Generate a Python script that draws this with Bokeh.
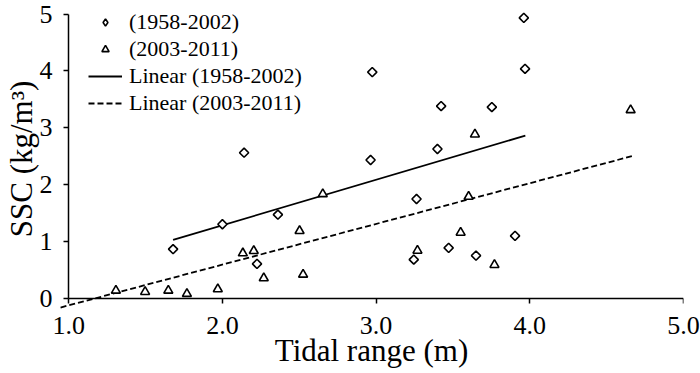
import numpy as np
from bokeh.plotting import figure
from bokeh.models import (Range1d, Legend, LegendItem, FixedTicker, PrintfTickFormatter,
                          LinearAxis, CustomJSTickFormatter)
from bokeh.embed import file_html
from bokeh.resources import INLINE

# ---- data ----
x_1958 = [1.679, 2.000, 2.141, 2.361, 2.225, 2.975, 2.964, 3.961, 3.969,
          3.423, 3.753, 3.399, 3.263, 3.472, 3.245, 3.650, 3.904]
y_1958 = [0.862, 1.301, 2.561, 1.470, 0.603, 3.980, 2.432, 4.935, 4.038,
          3.382, 3.364, 2.626, 1.746, 0.885, 0.679, 0.749, 1.096]

x_2003 = [1.307, 1.497, 1.648, 1.769, 1.970, 2.133, 2.204, 2.269, 2.502,
          2.525, 2.653, 3.269, 3.550, 3.602, 3.643, 3.770, 4.656]
y_2003 = [0.134, 0.111, 0.134, 0.076, 0.158, 0.791, 0.832, 0.352, 1.184,
          0.415, 1.834, 0.837, 1.154, 1.787, 2.884, 0.586, 3.312]

# linear trend lines (slope, intercept) and their x extent
trend_1958 = [0.801, -0.319]
trend_1958_x = [1.679, 3.971]
trend_2003 = [0.717, -0.844]
trend_2003_x = [0.947, 4.667]

x_ticks = [1.0, 2.0, 3.0, 4.0, 5.0]
y_ticks = [0, 1, 2, 3, 4, 5]

series_labels = ["(1958-2002)", "(2003-2011)", "Linear (1958-2002)", "Linear (2003-2011)"]
x_title = "Tidal range (m)"
y_title = "SSC (kg/m³)"

FONT = "Liberation Serif"

p = figure(width=700, height=373, output_backend="svg", toolbar_location=None,
           x_range=Range1d(0.94, 5.0), y_range=Range1d(-0.2, 5.1),
           min_border_left=57, min_border_right=17, min_border_top=8,
           min_border_bottom=64)
p.outline_line_color = None
p.xgrid.visible = False
p.ygrid.visible = False
p.background_fill_color = "white"

t1x = np.array(trend_1958_x)
t2x = np.array(trend_2003_x)
r_l1 = p.line(t1x, trend_1958[0] * t1x + trend_1958[1], line_color="black", line_width=1.8)
r_l2 = p.line(t2x, trend_2003[0] * t2x + trend_2003[1], line_color="black", line_width=1.8,
              line_dash="6 3")

p.scatter(x_1958, y_1958, marker="square", angle=np.pi / 4, size=6.5,
          fill_color="white", line_color="black", line_width=1.6)
r_t = p.scatter(x_2003, y_2003, marker="triangle", size=9,
                fill_color="white", line_color="black", line_width=1.6)
# legend-only twin of the 1958-2002 series (legend glyphs are never rotated)
r_d_leg = p.scatter(x_1958, y_1958, marker="diamond", size=9,
                    fill_color="white", line_color="black", line_width=1.6, visible=False)

# label-only axes in the side panels
for ax in (p.xaxis[0], p.yaxis[0]):
    ax.axis_line_color = None
    ax.major_tick_line_color = None
    ax.major_tick_out = 0
    ax.major_tick_in = 0
    ax.minor_tick_line_color = None
    ax.major_label_text_font = FONT
    ax.major_label_text_font_size = "26px"
    ax.major_label_text_color = "black"
    ax.axis_label_text_font = FONT
    ax.axis_label_text_font_size = "31px"
    ax.axis_label_text_font_style = "normal"
    ax.axis_label_text_color = "black"

p.xaxis.ticker = FixedTicker(ticks=x_ticks)
p.yaxis.ticker = FixedTicker(ticks=y_ticks)
p.xaxis.formatter = PrintfTickFormatter(format="%.1f")
p.xaxis.major_label_standoff = 7
p.yaxis.major_label_standoff = 7
p.xaxis.axis_label = x_title
p.yaxis.axis_label = y_title
p.xaxis.axis_label_standoff = -4
p.yaxis.axis_label_standoff = -2

# axis lines and ticks drawn at x = 1, y = 0
blank = CustomJSTickFormatter(code="return ''")
ax_x0 = LinearAxis(fixed_location=0, bounds=(1, 5), ticker=FixedTicker(ticks=x_ticks),
                   formatter=blank)
ax_y0 = LinearAxis(fixed_location=1.0, bounds=(0, 5), ticker=FixedTicker(ticks=y_ticks),
                   formatter=blank)
for ax in (ax_x0, ax_y0):
    ax.axis_line_color = "black"
    ax.axis_line_width = 1.5
    ax.major_tick_line_color = "black"
    ax.major_tick_line_width = 1.5
    ax.major_tick_out = 5
    ax.major_tick_in = 0
    ax.minor_tick_line_color = None
p.add_layout(ax_x0, "below")
p.add_layout(ax_y0, "left")

legend = Legend(items=[LegendItem(label=series_labels[0], renderers=[r_d_leg]),
                       LegendItem(label=series_labels[1], renderers=[r_t]),
                       LegendItem(label=series_labels[2], renderers=[r_l1]),
                       LegendItem(label=series_labels[3], renderers=[r_l2])],
                location=(29, 193), glyph_width=34, glyph_height=18, label_height=20,
                spacing=1, padding=0, label_standoff=7, border_line_color=None,
                background_fill_alpha=0, label_text_font=FONT,
                label_text_font_size="22px", label_text_color="black")
p.add_layout(legend)

open("out.html", "w").write(file_html(p, INLINE))
